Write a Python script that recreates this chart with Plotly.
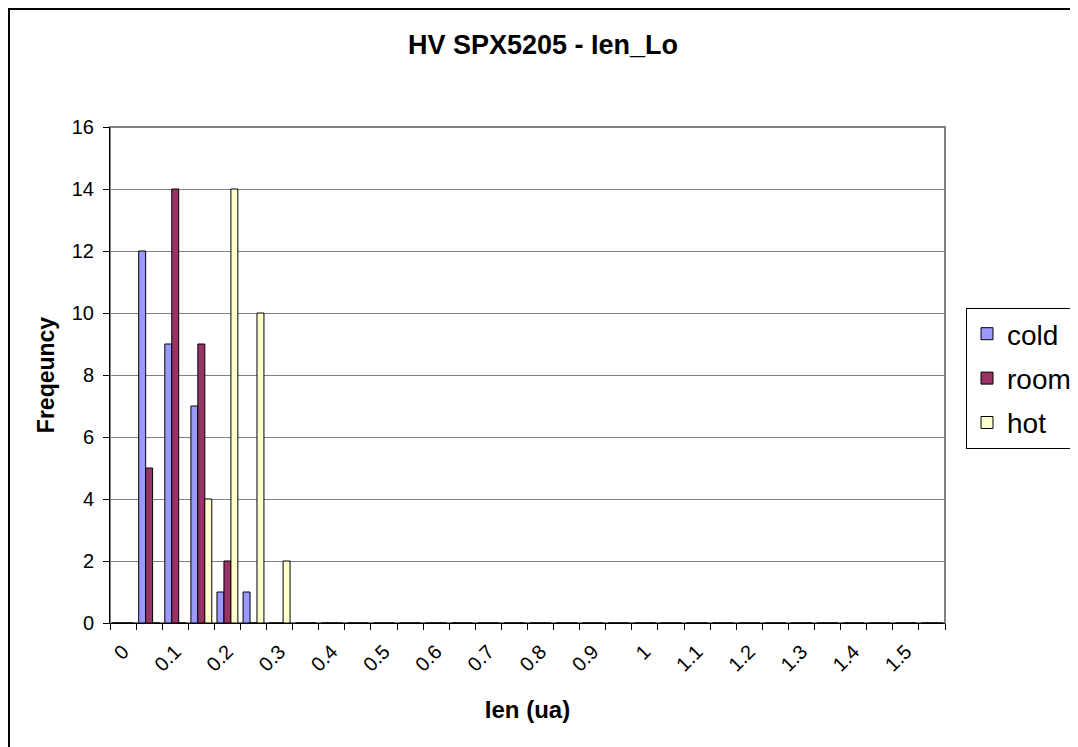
import plotly.graph_objects as go

# histogram bins (ua) and counts per temperature
bin_values = [round(i * 0.05, 2) for i in range(32)]
cold_counts = [0, 12, 9, 7, 1, 1, 0] + [0] * 25
room_counts = [0, 5, 14, 9, 2, 0, 0] + [0] * 25
hot_counts = [0, 0, 0, 4, 14, 10, 2] + [0] * 25
tick_values = [round(i * 0.1, 1) for i in range(16)]
tick_labels = ["0", "0.1", "0.2", "0.3", "0.4", "0.5", "0.6", "0.7", "0.8",
               "0.9", "1", "1.1", "1.2", "1.3", "1.4", "1.5"]
y_ticks = [0, 2, 4, 6, 8, 10, 12, 14, 16]

series = [
    ("cold", cold_counts, "#9999FF"),
    ("room", room_counts, "#993366"),
    ("hot", hot_counts, "#FFFFCC"),
]

fig = go.Figure()
for name, counts, color in series:
    fig.add_trace(
        go.Bar(
            x=bin_values,
            y=counts,
            name=name,
            legendgroup=name,
            marker=dict(color=color, line=dict(color="black", width=1)),
        )
    )

# page shows the figure 8px in from the top-left corner
ml, mt, mr, mb = 102, 119, 141, 132
pw, ph = 1078 - ml - mr, 747 - mt - mb

font_family = "Liberation Sans, Arial, sans-serif"
fig.update_layout(
    width=1078,
    height=747,
    barmode="group",
    bargap=0.2,
    bargroupgap=0,
    paper_bgcolor="white",
    plot_bgcolor="white",
    font=dict(family=font_family, color="black", size=20),
    margin=dict(l=ml, r=mr, t=mt, b=mb, autoexpand=False),
    title=dict(
        text="<b>HV SPX5205 - Ien_Lo</b>",
        x=535 / 1078,
        xref="container",
        xanchor="center",
        y=1 - 37 / 747,
        yref="container",
        yanchor="middle",
        font=dict(size=27, family=font_family),
    ),
    legend=dict(
        x=(958 - ml) / pw,
        xanchor="left",
        y=(747 - mb - 300) / ph,
        yanchor="top",
        bgcolor="white",
        bordercolor="black",
        borderwidth=1,
        font=dict(size=28, family=font_family),
        tracegroupgap=5,
        traceorder="grouped",
    ),
    shapes=[
        dict(type="rect", xref="paper", yref="paper", x0=0, x1=1, y0=0, y1=1,
             line=dict(color="#808080", width=2), layer="below"),
        dict(type="rect", xref="paper", yref="paper",
             x0=(1 - ml) / pw, x1=(1085 - ml) / pw,
             y0=(747 - mb - 760) / ph, y1=(747 - mb - 1) / ph,
             line=dict(color="black", width=2), layer="below"),
    ],
)

fig.update_xaxes(
    range=[-0.025, 1.575],
    tickmode="array",
    tickvals=tick_values,
    ticktext=tick_labels,
    tickangle=-45,
    ticks="",
    ticklabelstandoff=8,
    showgrid=False,
    zeroline=False,
    showline=True,
    linecolor="black",
    linewidth=1,
    minor=dict(ticks="outside", tick0=-0.025, dtick=0.05, ticklen=6,
               tickcolor="black", showgrid=False),
    title=dict(text="<b>Ien (ua)</b>", font=dict(size=24), standoff=26),
)
fig.update_yaxes(
    range=[0, 16],
    tickmode="array",
    tickvals=y_ticks,
    ticks="outside",
    ticklen=6,
    tickcolor="black",
    ticklabelstandoff=5,
    showgrid=True,
    gridcolor="#808080",
    gridwidth=1,
    zeroline=False,
    showline=True,
    linecolor="black",
    linewidth=1,
    title=dict(text="<b>Freqeuncy</b>", font=dict(size=23), standoff=10),
)

fig.write_html("out.html")
